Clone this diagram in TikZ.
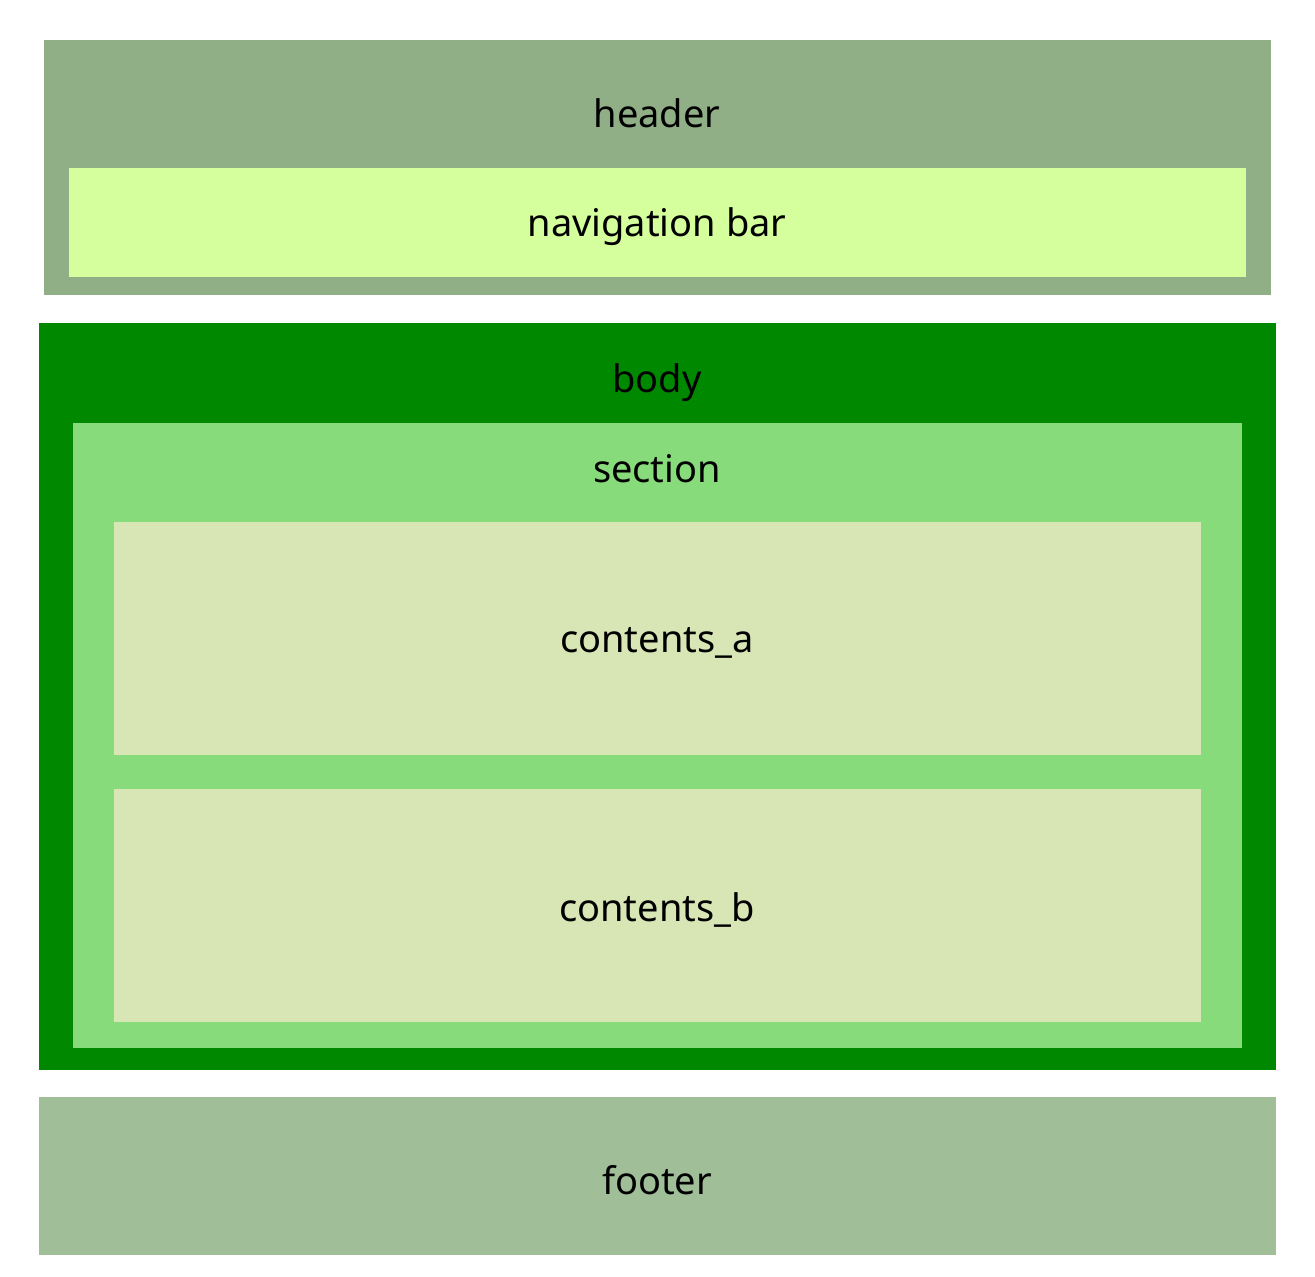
\documentclass[tikz,border=0pt]{standalone}
\usepackage{fontspec}
\setmainfont{Noto Sans}
\definecolor{hdr}{HTML}{90AF86}
\definecolor{nav}{HTML}{D5FF9C}
\definecolor{bdy}{HTML}{008800}
\definecolor{sec}{HTML}{88DB7A}
\definecolor{cnt}{HTML}{D7E6B4}
\definecolor{ftr}{HTML}{A0BF99}
\begin{document}
\begin{tikzpicture}[x=1pt,y=-1pt,
  lbl/.style={font=\fontsize{38}{46}\selectfont, text=black, inner sep=0pt}]
\useasboundingbox (0,0) rectangle (1315,1277);
\fill[hdr] (44,40) rectangle (1271,295);
\fill[nav] (69,167.5) rectangle (1246,277);
\fill[bdy] (39,322.5) rectangle (1275.5,1070);
\fill[sec] (73,422.5) rectangle (1242,1048);
\fill[cnt] (114,522) rectangle (1201,755);
\fill[cnt] (114,789) rectangle (1201,1021.5);
\fill[ftr] (39,1097) rectangle (1275.5,1254.5);
\node[lbl] (tHeader) at (657,113) {header};
\node[lbl] (tNav) at (657,227) {navigation bar};
\node[lbl] (tBody) at (657,383) {body};
\node[lbl] (tSection) at (657,469) {section};
\node[lbl] (tA) at (657,643) {contents\_a};
\node[lbl] (tB) at (657,910) {contents\_b};
\node[lbl] (tFooter) at (657,1180) {footer};
\end{tikzpicture}
\end{document}
